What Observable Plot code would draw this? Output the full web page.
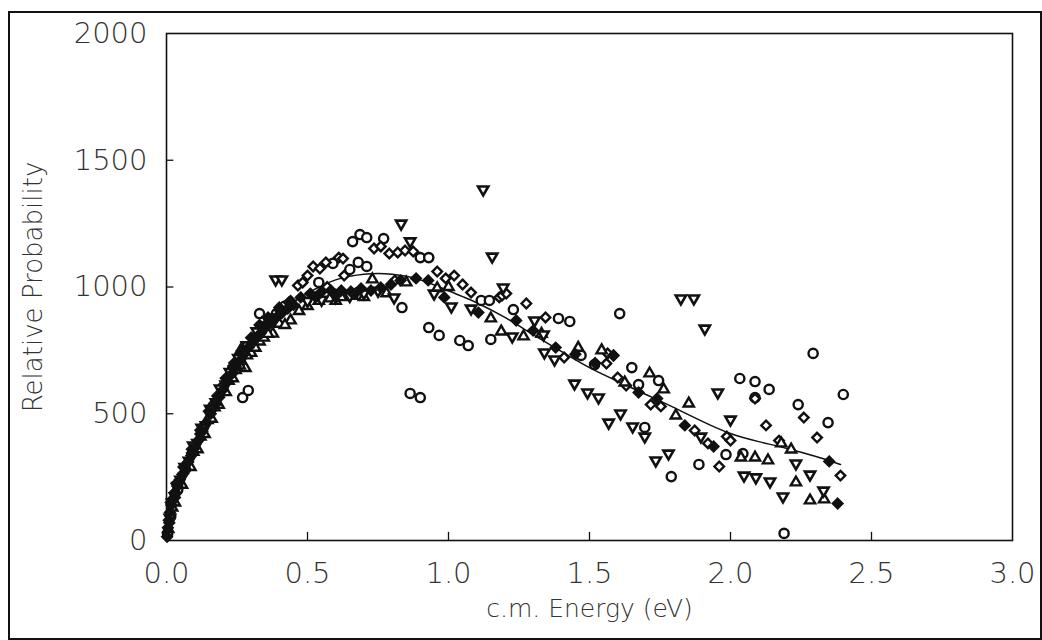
<!DOCTYPE html>
<html>
<head>
<meta charset="utf-8">
<script src="https://cdn.jsdelivr.net/npm/d3@7"></script>
<script src="https://cdn.jsdelivr.net/npm/@observablehq/plot@0.6"></script>
<style>
  html, body { margin: 0; padding: 0; background: #fff; }
  #wrap { position: relative; width: 1042px; height: 640px; }
  #border { position: absolute; left: 8px; top: 11px; width: 1030px; height: 625px; border: 2px solid #111; pointer-events: none; }
  svg text { font-weight: 200; }
</style>
</head>
<body>
<div id="wrap"><div id="border"></div></div>
<script>
// ---- data ----
const xTicks = [0, 0.5, 1.0, 1.5, 2.0, 2.5, 3.0];
const yTicks = [0, 500, 1000, 1500, 2000];
const xInnerTicks = [0.5, 1.0, 1.5, 2.0, 2.5];
const yInnerTicks = [500, 1000, 1500];

// open circles
const circles = [[0.004,25],[0.015,95],[0.04,200],[0.07,285],[0.1,360],[0.13,445],[0.165,530],[0.2,605],[0.235,680],[0.27,564],[0.29,592],[0.3,765],[0.33,895],[0.35,845],[0.39,895],[0.42,925],
[0.54,1018],[0.59,1093],[0.65,1069],[0.68,1097],[0.71,1081],[0.66,1179],[0.686,1207],[0.71,1195],[0.77,1191],[0.90,1116],[0.93,1116],[0.835,919],[0.93,840],[0.967,809],[1.04,789],[1.07,769],[1.15,793],[0.864,580],[0.90,564],[1.116,947],[1.145,947],[1.23,911],[1.39,876],[1.43,864],[1.607,895],[1.47,730],[1.518,694],[1.65,682],[1.745,631],[1.674,615],[1.696,446],[1.79,252],[1.888,300],[1.984,339],[2.033,639],[2.087,627],[2.137,596],[2.087,564],[2.24,536],[2.346,465],[2.40,576],[2.293,738],[2.19,28],[2.044,343]];

// open diamonds
const diamonds = [[0.01,70],[0.03,170],[0.06,265],[0.09,345],[0.12,420],[0.16,515],[0.19,580],[0.23,660],[0.27,725],[0.31,800],[0.36,860],[0.40,919],[0.434,939],[0.466,1006],[0.483,1018],[0.50,1045],[0.52,1081],[0.544,1073],[0.565,1097],[0.611,1116],[0.626,1112],[0.736,1152],[0.76,1160],[0.79,1132],[0.82,1136],[0.846,1144],[0.875,1140],[0.96,1061],[0.99,1034],[1.02,1045],[1.05,1010],[1.08,978],[0.81,1026],[1.18,959],[1.19,966],[1.205,974],[1.276,935],[1.344,880],[1.41,722],[1.564,738],[1.585,730],[1.56,698],[1.60,643],[1.63,611],[1.717,536],[1.753,529],[1.873,434],[1.92,383],[1.96,292],[1.987,410],[2.0,394],[2.087,560],[2.126,454],[2.172,394],[2.26,485],[2.307,406],[2.39,256],[0.57,1000],[0.63,1045]];

// open triangles (up)
const trianglesUp = [[0.006,45],[0.02,130],[0.045,225],[0.07,300],[0.095,350],[0.12,410],[0.145,475],[0.17,525],[0.2,590],[0.22,630],[0.245,672],[0.263,750],[0.28,680],[0.30,740],[0.33,785],[0.377,816],[0.40,855],[0.44,868],[0.47,905],[0.5,925],[0.54,945],[0.58,955],[0.62,960],[0.66,965],[0.73,1030],[0.85,1018],[1.15,876],[1.187,824],[1.266,805],[1.543,750],[1.713,659],[1.763,596],[1.625,623],[1.806,493],[1.852,540],[2.037,327],[2.087,327],[2.133,316],[2.18,383],[2.215,359],[2.232,229],[2.282,158],[2.332,162],[0.96,995],[1.0,1000],[1.33,815],[1.46,760],
[0.03,150],[0.055,220],[0.085,290],[0.11,360],[0.135,420],[0.16,480],[0.185,535],[0.21,585],[0.235,640],[0.26,690],[0.285,730],[0.315,760],[0.345,800],[0.36,815],[0.42,850],[0.6,945],[0.7,960],[0.78,975]];

// triangles (down)
const trianglesDown = [[0.012,90],[0.03,175],[0.05,240],[0.08,315],[0.11,385],[0.14,455],[0.175,545],[0.21,615],[0.24,675],[0.27,735],[0.31,790],[0.34,830],[0.387,1030],[0.409,1030],[0.5,945],[0.55,950],[0.6,960],[0.65,965],[0.7,975],[0.75,985],[0.807,959],[0.832,1250],[0.864,1180],[0.949,974],[1.01,923],[1.08,915],[1.123,1385],[1.155,1120],[1.194,998],[1.226,805],[1.305,868],[1.337,813],[1.34,742],[1.376,714],[1.447,619],[1.493,584],[1.532,564],[1.568,465],[1.61,501],[1.653,450],[1.696,410],[1.735,316],[1.78,343],[1.824,955],[1.87,955],[1.895,410],[1.909,836],[1.955,584],[2.0,477],[2.048,256],[2.09,249],[2.14,233],[2.186,174],[2.232,304],[2.282,260],[2.33,197],
[0.02,150],[0.04,215],[0.065,290],[0.095,375],[0.125,445],[0.155,520],[0.19,600],[0.225,665],[0.255,720],[0.285,770],[0.32,825],[0.36,870],[0.38,880]];

// filled diamonds
const filledDiamonds = [[0.002,15],[0.005,50],[0.008,80],[0.012,110],[0.017,140],[0.023,165],[0.03,190],[0.038,215],[0.047,240],[0.056,260],[0.066,285],[0.077,310],[0.088,335],[0.1,365],[0.113,395],[0.127,430],[0.142,465],[0.157,500],[0.172,535],[0.187,565],[0.2,595],[0.215,625],[0.23,655],[0.245,685],[0.26,710],[0.275,735],[0.29,760],[0.305,780],[0.32,800],[0.335,820],[0.35,840],[0.37,860],[0.39,880],[0.41,898],[0.43,915],[0.45,930],
[0.476,959],[0.51,974],[0.547,978],[0.583,986],[0.62,986],[0.654,982],[0.69,994],[0.725,986],[0.76,998],[0.796,1010],[0.83,1026],[0.885,1034],[0.928,1026],[0.985,959],[1.106,899],[1.24,868],[1.30,828],[1.38,761],[1.45,735],[1.52,700],[1.585,730],[1.674,584],[1.74,560],[1.838,454],[1.94,371],[2.35,312],[2.38,146],
[0.015,150],[0.035,225],[0.06,290],[0.09,360],[0.12,435],[0.15,510],[0.18,570],[0.21,640],[0.24,700],[0.27,750],[0.3,800],[0.33,850],[0.36,880],[0.4,910],[0.44,945],[0.53,960],[0.6,970],[0.67,975]];

// smooth fitted curve
const curveE = [0,0.02,0.05,0.1,0.15,0.2,0.25,0.3,0.35,0.4,0.45,0.5,0.55,0.6,0.65,0.7,0.75,0.8,0.85,0.9,0.95,1.0,1.05,1.1,1.2,1.3,1.4,1.5,1.6,1.7,1.8,1.9,2.0,2.1,2.2,2.3,2.39];
const curveP = [0,140,245,370,485,595,690,770,840,895,940,975,1005,1028,1042,1050,1053,1050,1042,1028,1008,985,962,938,880,812,746,682,628,576,524,470,422,390,363,332,300];

// ---- chart ----
const triDown = {
  draw(context, size) {
    const y = Math.sqrt(size / (Math.sqrt(3) * 3));
    context.moveTo(0, 2 * y);
    context.lineTo(-Math.sqrt(3) * y, -y);
    context.lineTo(Math.sqrt(3) * y, -y);
    context.closePath();
  }
};
const diamondSym = {
  draw(context, size) {
    const r = Math.sqrt(size / 2);
    context.moveTo(0, -r);
    context.lineTo(r, 0);
    context.lineTo(0, r);
    context.lineTo(-r, 0);
    context.closePath();
  }
};
const curve = curveE.map((e, i) => ({e, p: curveP[i]}));
const ink = "#111";
const txt = "#333";
const dotOpts = {x: d => d[0], y: d => d[1], stroke: ink, strokeWidth: 2.4};

const chart = Plot.plot({
  width: 1042,
  height: 640,
  marginLeft: 166,
  marginRight: 30,
  marginTop: 33,
  marginBottom: 100,
  x: {domain: [0, 3]},
  y: {domain: [0, 2000]},
  style: {fontFamily: "'DejaVu Sans Light', 'DejaVu Sans', sans-serif", background: "#fff", color: ink},
  marks: [
    Plot.frame({stroke: ink, strokeWidth: 1.6}),
    Plot.ruleX(xInnerTicks, {x: d => d, y1: 0, y2: 32, stroke: ink, strokeWidth: 1.3}),
    Plot.ruleY(yInnerTicks, {y: d => d, x1: 0, x2: 0.026, stroke: ink, strokeWidth: 1.3}),
    Plot.axisX(xTicks, {tickSize: 0, tickPadding: 22, fontSize: 29, tickFormat: d => d.toFixed(1), label: null, fill: txt}),
    Plot.axisY(yTicks, {tickSize: 0, tickPadding: 19, fontSize: 29, tickFormat: d => String(d), label: null, fill: txt}),
    Plot.text(["c.m. Energy (eV)"], {frameAnchor: "bottom", textAnchor: "middle", lineAnchor: "middle", dy: 68, fontSize: 25, fill: txt}),
    Plot.text(["Relative Probability"], {frameAnchor: "left", textAnchor: "middle", lineAnchor: "middle", dx: -133, rotate: -90, fontSize: 26, fill: txt}),
    Plot.line(curve, {x: "e", y: "p", curve: "natural", stroke: ink, strokeWidth: 1.5}),
    Plot.dot(circles, {...dotOpts, symbol: "circle", r: 4.6, fill: "#fff"}),
    Plot.dot(diamonds, {...dotOpts, symbol: diamondSym, r: 3.8, fill: "#fff"}),
    Plot.dot(trianglesUp, {...dotOpts, symbol: "triangle", r: 3.8, fill: "#fff"}),
    Plot.dot(trianglesDown, {...dotOpts, symbol: triDown, r: 3.8, fill: "#fff", strokeWidth: 2.6}),
    Plot.dot(filledDiamonds, {...dotOpts, symbol: diamondSym, r: 3.8, fill: ink})
  ]
});
document.getElementById("wrap").prepend(chart);
</script>
</body>
</html>
